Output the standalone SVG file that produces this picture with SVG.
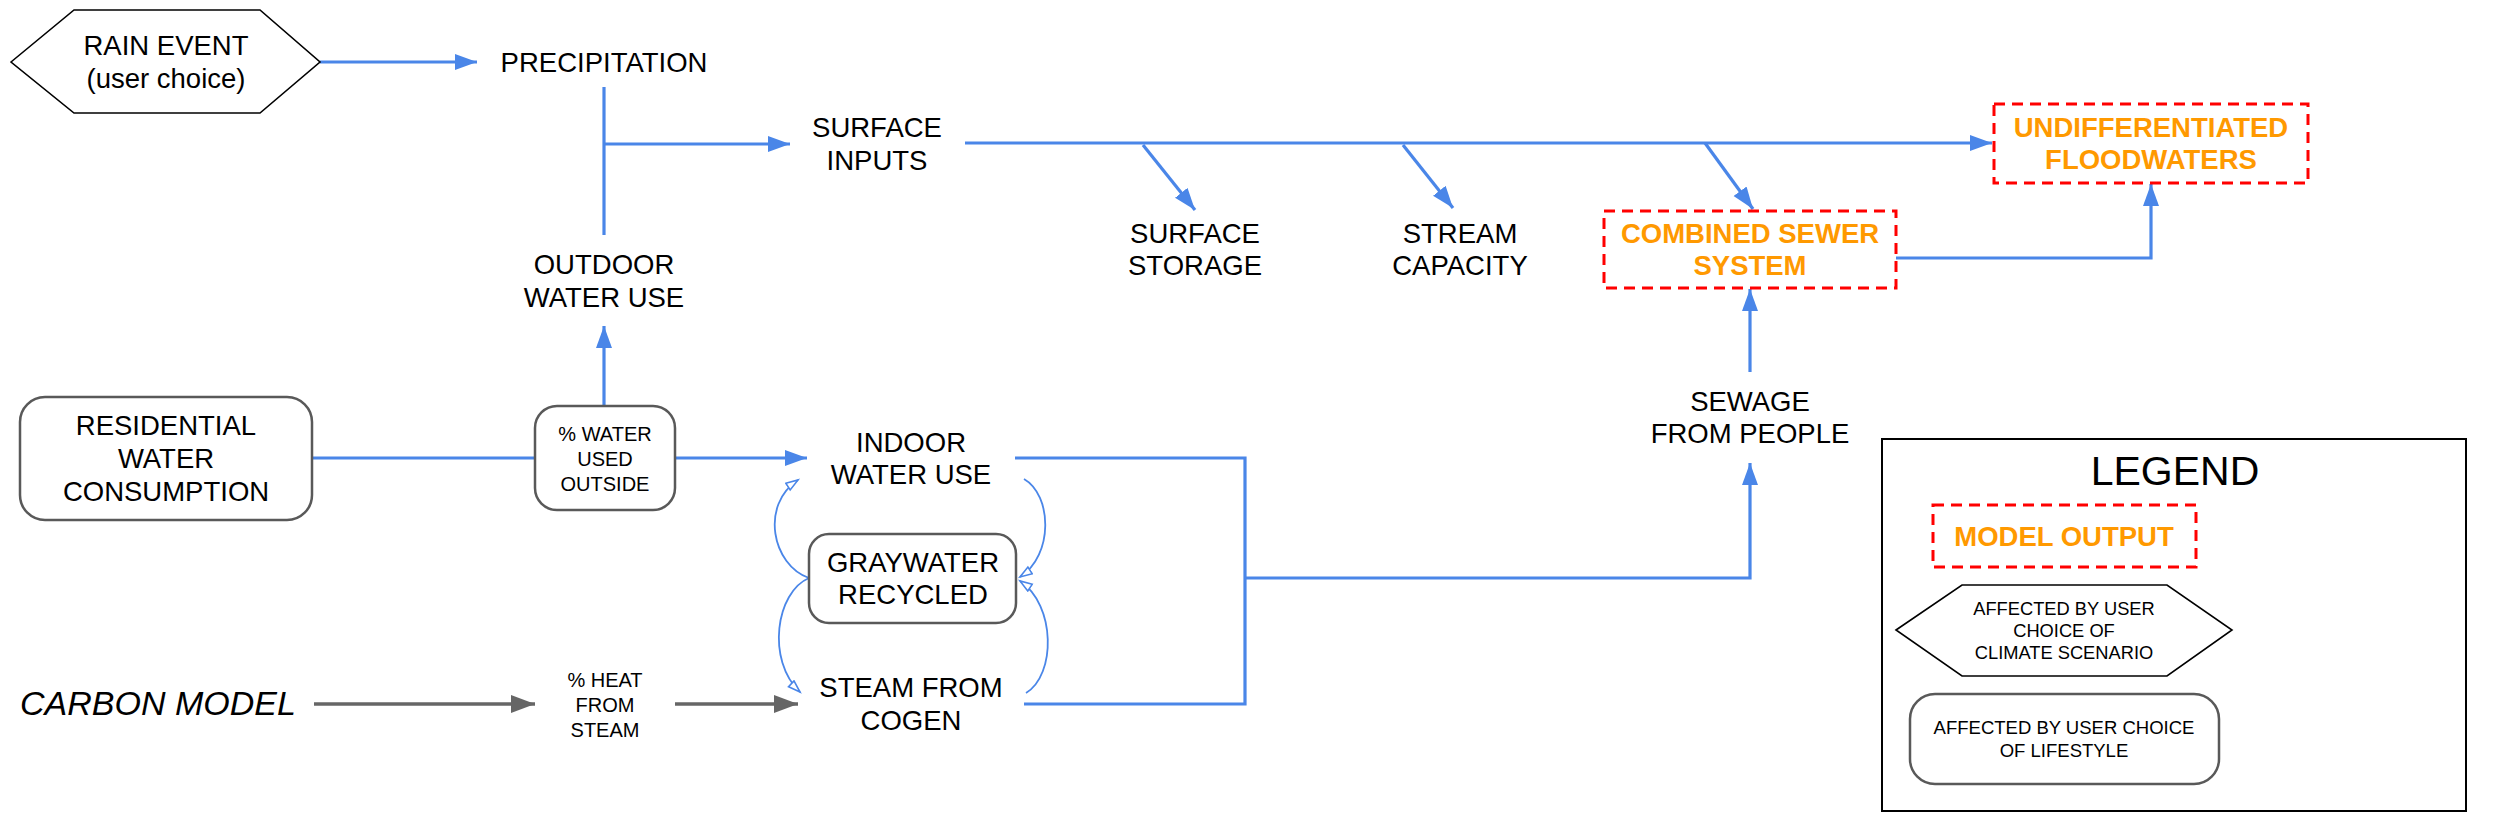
<svg xmlns="http://www.w3.org/2000/svg" width="2500" height="833" viewBox="0 0 2500 833">
<style>
.t{font-family:"Liberation Sans",Arial,sans-serif;font-size:27.5px;fill:#000;text-anchor:middle}
.s{font-size:20px}
.o{font-weight:bold;fill:#ff9900;font-size:27.5px}
.lg{font-size:18.3px}
.c{fill:none;stroke:#4a86e8;stroke-width:3.2}
.cc{fill:none;stroke:#4a86e8;stroke-width:1.8}
.g{fill:none;stroke:#666;stroke-width:3.5}
.box{fill:#fff;stroke:#595959;stroke-width:2.5}
.dash{fill:#fff;stroke:#ff0000;stroke-width:3;stroke-dasharray:11,7}
.hex{fill:#fff;stroke:#000;stroke-width:1.6}
</style>
<defs>
<marker id="ab" markerUnits="userSpaceOnUse" markerWidth="24" markerHeight="18" refX="22" refY="8" orient="auto"><path d="M0,0 L22,8 L0,16 z" fill="#4a86e8"/></marker>
<marker id="ag" markerUnits="userSpaceOnUse" markerWidth="26" markerHeight="20" refX="24" refY="9" orient="auto"><path d="M0,0 L24,9 L0,18 z" fill="#666"/></marker>
<marker id="ao" markerUnits="userSpaceOnUse" markerWidth="16" markerHeight="12" refX="13" refY="5" orient="auto"><path d="M1,1 L13,5 L1,9 z" fill="#fff" stroke="#4a86e8" stroke-width="1.6"/></marker>
</defs>
<rect width="2500" height="833" fill="#fff"/>
<g id="connectors">
<path class="c" d="M320,62 L477,62" marker-end="url(#ab)"/>
<path class="c" d="M604,87 L604,235"/>
<path class="c" d="M604,144 L790,144" marker-end="url(#ab)"/>
<path class="c" d="M965,143 L1992,143" marker-end="url(#ab)"/>
<path class="c" d="M1143,145 L1195,210" marker-end="url(#ab)"/>
<path class="c" d="M1403,145 L1453,208" marker-end="url(#ab)"/>
<path class="c" d="M1705,143 L1753,209" marker-end="url(#ab)"/>
<path class="c" d="M1896,258 L2151,258 L2151,184" marker-end="url(#ab)"/>
<path class="c" d="M1750,372 L1750,289" marker-end="url(#ab)"/>
<path class="c" d="M604,406 L604,326" marker-end="url(#ab)"/>
<path class="c" d="M312,458 L535,458"/>
<path class="c" d="M675,458 L807,458" marker-end="url(#ab)"/>
<path class="c" d="M1015,458 L1245,458 L1245,704 L1024,704"/>
<path class="c" d="M1245,578 L1750,578 L1750,463" marker-end="url(#ab)"/>
<path class="g" d="M314,704 L535,704" marker-end="url(#ag)"/>
<path class="g" d="M675,704 L798,704" marker-end="url(#ag)"/>
<path class="cc" d="M809,578 C772,565 760,505 798,480" marker-end="url(#ao)"/>
<path class="cc" d="M809,578 C776,592 766,660 800,692" marker-end="url(#ao)"/>
<path class="cc" d="M1024,479 C1052,495 1054,555 1020,577" marker-end="url(#ao)"/>
<path class="cc" d="M1026,693 C1056,675 1056,605 1020,581" marker-end="url(#ao)"/>
</g>
<g id="rain-event">
<polygon class="hex" points="11,62 74,10 260,10 320,62 260,113 74,113"/>
<text class="t" x="166" y="55">RAIN EVENT</text>
<text class="t" x="166" y="88">(user choice)</text>
</g>
<g id="precipitation"><text class="t" x="604" y="72">PRECIPITATION</text></g>
<g id="surface-inputs"><text class="t" x="877" y="137">SURFACE</text><text class="t" x="877" y="170">INPUTS</text></g>
<g id="surface-storage"><text class="t" x="1195" y="243">SURFACE</text><text class="t" x="1195" y="275">STORAGE</text></g>
<g id="stream-capacity"><text class="t" x="1460" y="243">STREAM</text><text class="t" x="1460" y="275">CAPACITY</text></g>
<g id="outdoor-water-use"><text class="t" x="604" y="274">OUTDOOR</text><text class="t" x="604" y="307">WATER USE</text></g>
<g id="combined-sewer">
<rect class="dash" x="1604" y="211" width="292" height="77"/>
<text class="t o" x="1750" y="243">COMBINED SEWER</text>
<text class="t o" x="1750" y="275">SYSTEM</text>
</g>
<g id="floodwaters">
<rect class="dash" x="1994" y="104" width="314" height="79"/>
<text class="t o" x="2151" y="137">UNDIFFERENTIATED</text>
<text class="t o" x="2151" y="169">FLOODWATERS</text>
</g>
<g id="sewage"><text class="t" x="1750" y="411">SEWAGE</text><text class="t" x="1750" y="443">FROM PEOPLE</text></g>
<g id="residential">
<rect class="box" x="20" y="397" width="292" height="123" rx="25"/>
<text class="t" x="166" y="435">RESIDENTIAL</text>
<text class="t" x="166" y="468">WATER</text>
<text class="t" x="166" y="501">CONSUMPTION</text>
</g>
<g id="pct-water-outside">
<rect class="box" x="535" y="406" width="140" height="104" rx="22"/>
<text class="t s" x="605" y="441">% WATER</text>
<text class="t s" x="605" y="466">USED</text>
<text class="t s" x="605" y="491">OUTSIDE</text>
</g>
<g id="indoor-water-use"><text class="t" x="911" y="452">INDOOR</text><text class="t" x="911" y="484">WATER USE</text></g>
<g id="graywater">
<rect class="box" x="809" y="534" width="207" height="89" rx="20"/>
<text class="t" x="913" y="572">GRAYWATER</text>
<text class="t" x="913" y="604">RECYCLED</text>
</g>
<g id="steam-cogen"><text class="t" x="911" y="697">STEAM FROM</text><text class="t" x="911" y="730">COGEN</text></g>
<g id="carbon-model"><text class="t" x="20" y="715" style="text-anchor:start;font-style:italic;font-size:34px">CARBON MODEL</text></g>
<g id="pct-heat"><text class="t s" x="605" y="687">% HEAT</text><text class="t s" x="605" y="712">FROM</text><text class="t s" x="605" y="737">STEAM</text></g>
<g id="legend">
<rect x="1882" y="439" width="584" height="372" fill="#fff" stroke="#000" stroke-width="2"/>
<text class="t" x="2175" y="485" style="font-size:41px">LEGEND</text>
<rect class="dash" x="1933" y="505" width="263" height="62"/>
<text class="t o" x="2064" y="546">MODEL OUTPUT</text>
<polygon class="hex" points="1896,630 1962,585 2167,585 2232,630 2167,676 1962,676"/>
<text class="t lg" x="2064" y="615">AFFECTED BY USER</text>
<text class="t lg" x="2064" y="637">CHOICE OF</text>
<text class="t lg" x="2064" y="659">CLIMATE SCENARIO</text>
<rect class="box" x="1910" y="694" width="309" height="90" rx="25"/>
<text class="t lg" x="2064" y="734" style="font-size:18.5px">AFFECTED BY USER CHOICE</text>
<text class="t lg" x="2064" y="757" style="font-size:18.5px">OF LIFESTYLE</text>
</g>
</svg>
